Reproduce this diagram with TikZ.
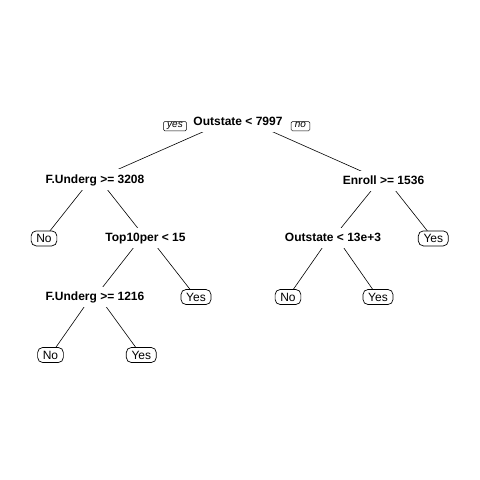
\documentclass[tikz,border=0pt]{standalone}
\usepackage{fontspec}
\setmainfont{Liberation Sans}
\usetikzlibrary{backgrounds}
\begin{document}
\begin{tikzpicture}[x=1pt,y=-1pt,
  splitnode/.style={font=\bfseries\fontsize{12}{14}\selectfont, fill=white, inner xsep=2pt, inner ysep=5.5pt, text height=8.6pt, text depth=1pt},
  leafnode/.style={font=\fontsize{12}{14}\selectfont, draw, fill=white, rounded corners=5pt, inner xsep=5.2pt, inner ysep=3.2pt, text height=8.6pt, text depth=0pt, line width=0.7pt},
  yesno/.style={font=\itshape\fontsize{10}{11}\selectfont, draw, fill=white, rounded corners=1.2pt, inner xsep=3.7pt, inner ysep=1pt, text height=5.2pt, text depth=2pt, line width=0.5pt},
  branch/.style={line width=0.6pt}]
\useasboundingbox (0,0) rectangle (480,480);

% split nodes
\node[splitnode] (r)   at (238,121.9) {Outstate < 7997};
\node[splitnode] (fu1) at (95,179.5) {F.Underg >= 3208};
\node[splitnode] (en)  at (383.5,181) {Enroll >= 1536};
\node[splitnode] (tp)  at (145.5,237.9) {Top10per < 15};
\node[splitnode] (os)  at (333,237.9) {Outstate < 13e+3};
\node[splitnode] (fu2) at (95,296.9) {F.Underg >= 1216};

% yes / no tags
\node[yesno] (yes) at (175,126.2) {yes};
\node[yesno] (no)  at (300.5,126.2) {no};

% leaves
\node[leafnode] (l1) at (44,238.4) {No};
\node[leafnode] (l2) at (433.3,238.4) {Yes};
\node[leafnode] (l3) at (196,297) {Yes};
\node[leafnode] (l4) at (288,297) {No};
\node[leafnode] (l5) at (378,297) {Yes};
\node[leafnode] (l6) at (50.5,355) {No};
\node[leafnode] (l7) at (141.3,355) {Yes};

% junctions
\coordinate (rj)  at ([yshift=5.5pt]r.center);
\coordinate (fu1j) at ([yshift=5.5pt]fu1.center);
\coordinate (enj) at ([yshift=5.5pt]en.center);
\coordinate (tpj) at ([yshift=5.5pt]tp.center);
\coordinate (osj) at ([yshift=5.5pt]os.center);
\coordinate (fu2j) at ([yshift=5.5pt]fu2.center);

\begin{scope}[on background layer]
\draw[branch] (rj) -- (fu1.center);
\draw[branch] (rj) -- (en.center);
\draw[branch] (fu1j) -- (l1.center);
\draw[branch] (fu1j) -- (tp.center);
\draw[branch] (tpj) -- (fu2.center);
\draw[branch] (tpj) -- (l3.center);
\draw[branch] (fu2j) -- (l6.center);
\draw[branch] (fu2j) -- (l7.center);
\draw[branch] (enj) -- (os.center);
\draw[branch] (enj) -- (l2.center);
\draw[branch] (osj) -- (l4.center);
\draw[branch] (osj) -- (l5.center);
\end{scope}
\end{tikzpicture}
\end{document}
